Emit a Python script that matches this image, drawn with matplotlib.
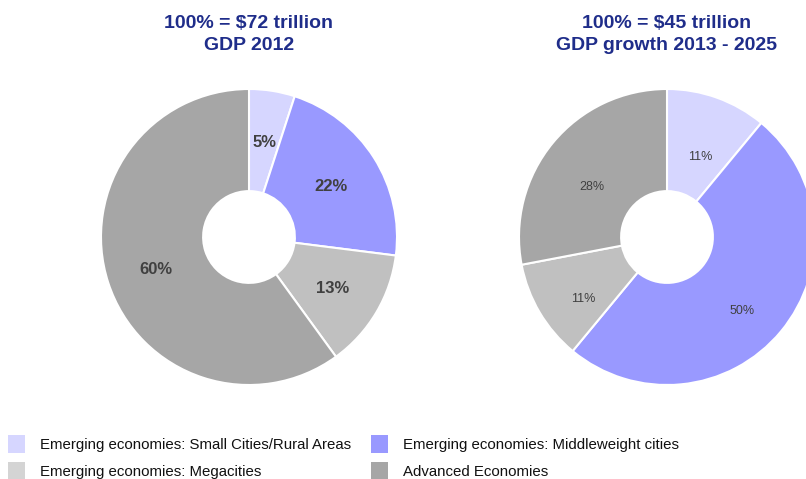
import matplotlib
matplotlib.use("Agg")
import matplotlib.pyplot as plt
import matplotlib.patches as mpatches

plt.rcParams['font.family'] = ['Liberation Sans', 'DejaVu Sans']

# segment names and colours
segments = ["Emerging economies: Small Cities/Rural Areas",
            "Emerging economies: Middleweight cities",
            "Emerging economies: Megacities",
            "Advanced Economies"]
pie_colors = ["#D6D6FF", "#9999FF", "#C0C0C0", "#A6A6A6"]
legend_colors = ["#D6D6FF", "#9999FF", "#D4D4D4", "#A6A6A6"]

# share of GDP, %
gdp_2012 = [5, 22, 13, 60]
growth_2013_2025 = [11, 50, 11, 28]

titles = [("100% = $72 trillion", "GDP 2012"),
          ("100% = $45 trillion", "GDP growth 2013 - 2025")]

navy = "#1F2D8A"
label_gray = "#404040"

fig = plt.figure(figsize=(8.06, 4.79), dpi=100)
W, H = 806, 479
R = 148  # pie radius in px


def pie_axes(cx, cy):
    return fig.add_axes([(cx - R) / W, (H - cy - R) / H, 2 * R / W, 2 * R / H])


ax1 = pie_axes(249, 237)
ax2 = pie_axes(667, 237)

# (axes, values, bold labels, label size, label drop in px)
for ax, vals, bold, fs, drop in [(ax1, gdp_2012, True, 12, 2),
                                 (ax2, growth_2013_2025, False, 9, 12)]:
    wedges, texts, autotexts = ax.pie(
        vals, colors=pie_colors, startangle=90, counterclock=False,
        autopct=lambda p: f"{p:.0f}%", pctdistance=0.66,
        wedgeprops=dict(width=0.69, edgecolor="white", linewidth=1.5))
    for t in autotexts:
        t.set_color(label_gray)
        t.set_fontsize(fs)
        if bold:
            t.set_fontweight("bold")
        x, y = t.get_position()
        t.set_position((x, y - drop / R))
    ax.set_xlim(-1, 1)
    ax.set_ylim(-1, 1)
    ax.set_aspect("equal")
    ax.axis("off")

# titles, two lines each
for x, (l1, l2) in [(249, titles[0]), (667, titles[1])]:
    for y, s in [(24, l1), (46, l2)]:
        fig.text(x / W, 1 - y / H, s, ha="center", va="center", color=navy,
                 fontsize=14, fontweight="bold")

# legend drawn by hand so it sits like the original
leg_pos = [(8, 444), (371, 444), (8, 471), (371, 471)]
for (x, y), name, c in zip(leg_pos, segments, legend_colors):
    fig.patches.append(mpatches.Rectangle(((x) / W, (H - y - 9) / H), 17 / W, 18 / H,
                                          transform=fig.transFigure, facecolor=c,
                                          edgecolor="none"))
    fig.text((x + 32) / W, (H - y - 1) / H, name, ha="left", va="center",
             fontsize=10.8, color="#111111")

plt.savefig("out.png", dpi=100)
